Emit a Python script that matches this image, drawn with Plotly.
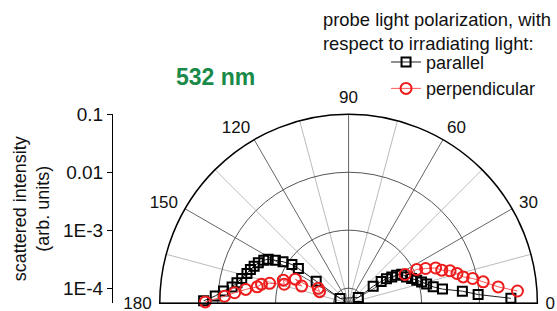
import plotly.graph_objects as go

FONT = "Liberation Sans, Arial, sans-serif"

# ---- data (angle in degrees, scattered intensity in arb. units) ----
parallel_theta = [179.1, 176.9, 174.5, 172.1, 169.7, 167.0, 163.7, 161.1, 158.6, 155.9,
                  153.2, 151.3, 149.7, 147.7, 145.7, 145.4, 145.9, 151.1,
                  30.2, 34.4, 33.5, 32.9, 31.3, 30.2, 28.6, 24.3, 21.3, 18.6, 16.2,
                  13.7, 10.9, 8.5, 6.0, 3.8, 1.7]
parallel_r = [0.0175, 0.0111, 0.0081, 0.0059, 0.0050, 0.0043, 0.0037, 0.0034, 0.0031, 0.0028,
              0.0024, 0.0021, 0.0016, 0.0012, 0.00084, 0.00062, 0.00026, 0.000081,
              0.000086, 0.00018, 0.00026, 0.00033, 0.00041, 0.00050, 0.00061, 0.00069,
              0.00081, 0.00096, 0.00113, 0.00134, 0.00169, 0.0024, 0.0052, 0.0096, 0.035]

perp_theta = [179.5, 176.8, 174.8, 172.4, 169.9, 167.7, 165.9, 163.6, 160.6, 160.0,
              155.8, 158.4, 154.0, None,
              26.9, 26.3, 24.2, 22.0, 19.5, 17.65, 15.3, 12.9, 11.25, 9.0, 6.2, 4.1]
perp_r = [0.0164, 0.0077, 0.0052, 0.0034, 0.0022, 0.0019, 0.0014, 0.00079, 0.00086, 0.00040,
          0.00056, 0.00019, 0.00021, None,
          0.00068, 0.00113, 0.00158, 0.0023, 0.0028, 0.0038, 0.0048, 0.0059, 0.0084,
          0.0124, 0.0218, 0.0461]

angle_ticks = [0, 30, 60, 90, 120, 150, 180]
minor_angles = [15, 45, 75, 105, 135, 165]
radial_ticks = [1e-4, 1e-3, 1e-2, 1e-1]
radial_labels = ["1E-4", "1E-3", "0.01", "0.1"]
log_range = [-4.26, -1]

W, H = 557, 311
# the page is shown slightly shrunk and offset; map wanted screen pixels to layout pixels
S, OX, OY = 0.974, 9.0, 8.0


def px(xs):
    return ((xs - OX) / S) / W


def py(ys):
    return 1 - ((ys - OY) / S) / H


fig = go.Figure()

# light grid subplot (underneath)
fig.add_trace(go.Scatterpolar(r=[None], theta=[None], subplot="polar",
                              showlegend=False, hoverinfo="skip"))

# data
fig.add_trace(go.Scatterpolar(
    r=parallel_r, theta=parallel_theta, subplot="polar2", name="parallel",
    mode="lines+markers",
    line=dict(color="#222222", width=1),
    marker=dict(symbol="square-open", size=9, color="black", line=dict(width=2, color="black")),
))
fig.add_trace(go.Scatterpolar(
    r=perp_r, theta=perp_theta, subplot="polar2", name="perpendicular",
    mode="lines+markers", connectgaps=False,
    line=dict(color="#ff5555", width=1),
    marker=dict(symbol="circle-open", size=11, color="#ee1c1c", line=dict(width=2, color="#ee1c1c")),
))

# dummy trace for the left intensity axis
fig.add_trace(go.Scatter(x=[0], y=[1e-3], mode="markers", marker=dict(opacity=0),
                         showlegend=False, hoverinfo="skip", xaxis="x", yaxis="y"))

dom_x = [px(158.5), px(538.5)]
dom_y = [py(303), py(113)]

common_polar = dict(domain=dict(x=dom_x, y=dom_y), sector=[0, 180], hole=0)

fig.update_layout(
    width=W, height=H,
    margin=dict(l=0, r=0, t=0, b=0),
    paper_bgcolor="white", plot_bgcolor="white",
    font=dict(family=FONT, size=17, color="#111111"),
    polar=dict(
        **common_polar,
        bgcolor="white",
        radialaxis=dict(type="log", range=log_range, showgrid=False, showline=False,
                        showticklabels=False, ticks=""),
        angularaxis=dict(direction="counterclockwise", rotation=0, tickmode="array",
                         tickvals=minor_angles, showticklabels=False, ticks="",
                         showline=False, gridcolor="#bbbbbb", gridwidth=1),
    ),
    polar2=dict(
        **common_polar,
        bgcolor="rgba(0,0,0,0)",
        radialaxis=dict(type="log", range=log_range, tickmode="array", tickvals=radial_ticks,
                        showgrid=True, gridcolor="#555555", gridwidth=1,
                        showline=False, showticklabels=False, ticks=""),
        angularaxis=dict(direction="counterclockwise", rotation=0, tickmode="array",
                         tickvals=angle_ticks, ticktext=[str(a) for a in angle_ticks],
                         ticks="outside", ticklen=4, tickcolor="rgba(0,0,0,0)",
                         showline=True, linecolor="black", linewidth=1.5,
                         gridcolor="#666666", gridwidth=1,
                         tickfont=dict(size=17, family=FONT, color="#111111")),
    ),
    xaxis=dict(domain=[0.0, 0.01], visible=False, range=[0, 1]),
    yaxis=dict(type="log", range=log_range, domain=dom_y, anchor="free",
               position=px(118), side="left", showline=True, linecolor="black",
               linewidth=1, ticks="outside", ticklen=5, tickcolor="black",
               tickmode="array", tickvals=radial_ticks, ticktext=radial_labels,
               showgrid=False, zeroline=False,
               tickfont=dict(size=19, family=FONT, color="#111111"),
               title=dict(text="scattered intensity<br>(arb. units)",
                          font=dict(size=18, family=FONT, color="#111111"),
                          standoff=7)),
    legend=dict(x=px(385), y=py(42), xanchor="left", yanchor="top",
                bgcolor="rgba(0,0,0,0)", font=dict(size=18, family=FONT, color="#111111"),
                borderwidth=0),
    annotations=[
        dict(text="probe light polarization, with<br>respect to irradiating light:",
             xref="paper", yref="paper", x=px(322), y=py(5),
             xanchor="left", yanchor="top", align="left", showarrow=False,
             font=dict(size=18.4, family=FONT, color="#111111")),
        dict(text="<b>532 nm</b>", xref="paper", yref="paper",
             x=px(219), y=py(75), xanchor="center", yanchor="middle",
             showarrow=False, font=dict(size=23, family=FONT, color="#1a8a48")),
    ],
)

fig.write_html(
    "out.html",
    config={"displayModeBar": False},
    post_script="document.body.style.margin='0';document.body.style.padding='0';"
                "document.documentElement.style.overflow='hidden';"
                "document.body.style.overflow='hidden';",
)
